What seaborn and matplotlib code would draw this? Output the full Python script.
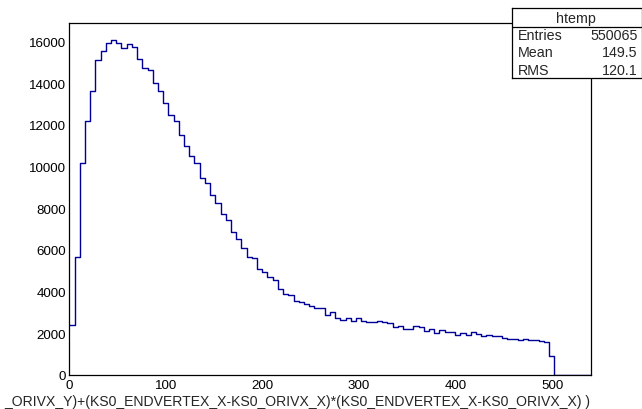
import matplotlib
matplotlib.use("Agg")
import matplotlib.pyplot as plt
from matplotlib.ticker import MultipleLocator
import numpy as np
import pandas as pd
import seaborn as sns

# Histogram binning: 100 bins over [0, 540]
x_min, x_max, n_bins = 0.0, 540.0, 100

# Bin contents (first 93 bins filled, the rest empty)
counts = [
    2410, 5645, 10150, 12200, 13640, 15110, 15560, 15920, 16080, 15940,
    15680, 15890, 15710, 15140, 14710, 14630, 13990, 13605, 13030, 12470,
    12166, 11510, 11000, 10520, 10150, 9430, 9190, 8630, 8265, 7737,
    7434, 6843, 6522, 6091, 5675, 5627, 5069, 4925, 4685, 4541,
    4125, 3900, 3837, 3565, 3485, 3389, 3325, 3213, 3213, 2862,
    3037, 2734, 2638, 2718, 2606, 2718, 2590, 2558, 2558, 2590,
    2542, 2494, 2318, 2366, 2222, 2222, 2366, 2318, 2126, 2222,
    2000, 2142, 2046, 2046, 1918, 2000, 1918, 2046, 1950, 1870,
    1918, 1870, 1870, 1774, 1742, 1742, 1694, 1742, 1694, 1678,
    1630, 1566, 925, 0, 0, 0, 0, 0, 0, 0,
]

# axis title (the part that fits on the canvas)
x_title = "_ORIVX_Y)+(KS0_ENDVERTEX_X-KS0_ORIVX_X)*(KS0_ENDVERTEX_X-KS0_ORIVX_X) )"

stats_title = "htemp"
stats_names = ["Entries", "Mean", "RMS"]
stats_values = ["550065", "149.5", "120.1"]

sns.set_style("white")
plt.rcParams["font.family"] = ["Liberation Sans", "DejaVu Sans"]

edges = np.linspace(x_min, x_max, n_bins + 1)
centers = 0.5 * (edges[:-1] + edges[1:])
df = pd.DataFrame({"x": centers, "w": np.asarray(counts, dtype=float)})

W, H = 642, 410
fig = plt.figure(figsize=(W / 100, H / 100), dpi=100)
fig.patch.set_facecolor("white")

# frame in pixel coordinates
fl, fr, ft, fb = 69.3, 590.7, 24.0, 376.0
ax = fig.add_axes([fl / W, 1 - fb / H, (fr - fl) / W, (fb - ft) / H])
ax.set_facecolor("white")

sns.histplot(data=df, x="x", weights="w", bins=n_bins, binrange=(x_min, x_max),
             element="step", fill=False, color="#000099", linewidth=1.0, ax=ax)

ax.set_xlim(x_min, x_max)
ax.set_ylim(0, max(counts) * 1.05)

for s in ax.spines.values():
    s.set_visible(True)
    s.set_color("black")
    s.set_linewidth(0.9)

ax.xaxis.set_major_locator(MultipleLocator(100))
ax.xaxis.set_minor_locator(MultipleLocator(20))
ax.yaxis.set_major_locator(MultipleLocator(2000))
ax.yaxis.set_minor_locator(MultipleLocator(500))

ax.tick_params(axis="x", which="major", direction="in", length=7.2, width=0.8,
               pad=3.0, labelsize=9.6, colors="black")
ax.tick_params(axis="x", which="minor", direction="in", length=3.6, width=0.8)
ax.tick_params(axis="y", which="major", direction="in", length=11.0, width=0.8,
               pad=2.4, labelsize=9.6, colors="black")
ax.tick_params(axis="y", which="minor", direction="in", length=5.2, width=0.8)
ax.tick_params(top=False, right=False, which="both")

ax.set_ylabel("")
ax.set_xlabel(x_title, fontsize=10, ha="right", va="baseline")
ax.xaxis.set_label_coords(1.0, -(406.5 - fb) / (fb - ft))

# size the axis title so it runs from the left margin to the frame's right edge
fig.canvas.draw()
lab = ax.xaxis.label
w_now = lab.get_window_extent(renderer=fig.canvas.get_renderer()).width
lab.set_fontsize(10 * (fr - 4.0) / w_now)

# statistics box
bl, br, bt, bb = 512.3, 641.5, 9.0, 79.3
sax = fig.add_axes([bl / W, 1 - bb / H, (br - bl) / W, (bb - bt) / H], zorder=5)
sax.set_facecolor("white")
sax.set_xlim(bl, br)
sax.set_ylim(bb, bt)
sax.set_xticks([])
sax.set_yticks([])
for s in sax.spines.values():
    s.set_color("black")
    s.set_linewidth(0.9)
header_bottom = 27.7
sax.axhline(header_bottom, color="black", linewidth=0.9)
sax.text(576.0, 23.0, stats_title, ha="center", va="baseline", fontsize=10.3)
baselines = [40.0, 57.3, 75.0]
for name, val, yb in zip(stats_names, stats_values, baselines):
    sax.text(518.3, yb, name, ha="left", va="baseline", fontsize=10.3)
    sax.text(637.5, yb, val, ha="right", va="baseline", fontsize=10.3)

fig.savefig("out.png", dpi=100, facecolor="white")
